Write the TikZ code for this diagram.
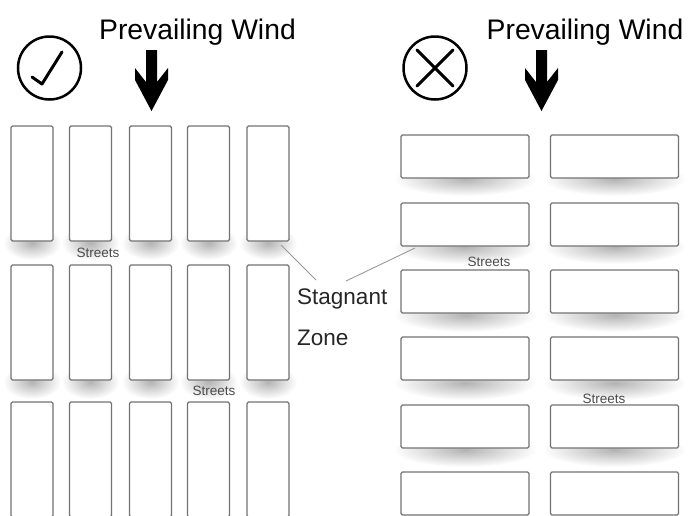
\documentclass[tikz,border=0pt]{standalone}
\usepackage{fontspec}
\setmainfont{Liberation Sans}
\pgfdeclareradialshading{softshadow}{\pgfpoint{0bp}{0bp}}{color(0bp)=(black!30); color(8bp)=(black!20); color(25bp)=(white); color(50bp)=(white)}
\tikzset{
  block/.style={draw=black!55, line width=1.2pt, fill=white, rounded corners=1.5pt, inner sep=0pt, outer sep=0pt},
  tall/.style={block, minimum width=42pt, minimum height=115pt},
  wide/.style={block, minimum width=128pt, minimum height=43pt},
  streetlbl/.style={text=black!70, font=\fontsize{13.5}{14}\selectfont, inner sep=0pt},
  windlbl/.style={font=\fontsize{28.3}{30}\selectfont, inner sep=0pt},
  stglbl/.style={text=black!85, font=\fontsize{22.5}{24}\selectfont, inner sep=0pt, anchor=west},
  pointer/.style={draw=black!40, line width=0.9pt},
  sym/.style={line width=3pt, line cap=round, line join=round},
  ring/.style={draw, circle, line width=2.5pt, minimum size=63pt, inner sep=0pt}
}
\newcommand{\shadowunder}[3]{\shade[shading=softshadow] (#1,#2+2) ellipse [x radius=#3/2+8, y radius=17];}
\begin{document}
\begin{tikzpicture}[x=1pt,y=-1pt]
\useasboundingbox (0,0) rectangle (690,515);
\clip (0,0) rectangle (690,515);
% shadows
\foreach \cx in {32,90.5,150.5,208.5,268}{
  \foreach \by in {241,380}{\shadowunder{\cx}{\by}{42}}
}
\foreach \cx in {465,614.5}{
  \foreach \by in {177,245,313,381,448}{\shadowunder{\cx}{\by}{128}}
}
% left blocks (vertical)
\foreach \r/\cy in {1/183.5,2/322.5,3/459.5}{
  \foreach \c/\cx in {1/32,2/90.5,3/150.5,4/208.5,5/268}{
    \node[tall] (L\r\c) at (\cx,\cy) {};
  }
}
% right blocks (horizontal)
\foreach \r/\cy in {1/156.5,2/224.5,3/291.5,4/358.5,5/426.5,6/493.5}{
  \node[wide] (R\r1) at (465,\cy) {};
  \node[wide] (R\r2) at (614.5,\cy) {};
}
% street labels
\node[streetlbl] (s1) at (98,253) {Streets};
\node[streetlbl] (s2) at (214,391) {Streets};
\node[streetlbl] (s3) at (489,262) {Streets};
\node[streetlbl] (s4) at (604,399) {Streets};
% titles
\node[windlbl] (w1) at (197.5,32) {Prevailing Wind};
\node[windlbl] (w2) at (585,32) {Prevailing Wind};
% wind arrows
\fill (146,50) -- (157,50) -- (157,82) -- (168,68) -- (168,80) -- (151.5,111) -- (135,80) -- (135,68) -- (146,82) -- cycle;
\fill (536,50) -- (547,50) -- (547,82) -- (558,68) -- (558,80) -- (541.5,111) -- (525,80) -- (525,68) -- (536,82) -- cycle;
% check and cross symbols
\node[ring] (ok) at (49.5,68) {};
\draw[sym] (32,77) -- (42,84) -- (62,52);
\node[ring] (no) at (435,68) {};
\draw[sym] (417,50) -- (453,86);
\draw[sym] (453,50) -- (417,86);
% stagnant zone
\node[stglbl] (stag) at (297,299) {Stagnant};
\node[stglbl] (zone) at (297,338) {Zone};
\coordinate (p1) at (281,245);
\coordinate (p2) at (415,248);
\coordinate (q1) at (316,280);
\coordinate (q2) at (346,281);
\draw[pointer] (p1) -- (q1);
\draw[pointer] (p2) -- (q2);
\end{tikzpicture}
\end{document}
